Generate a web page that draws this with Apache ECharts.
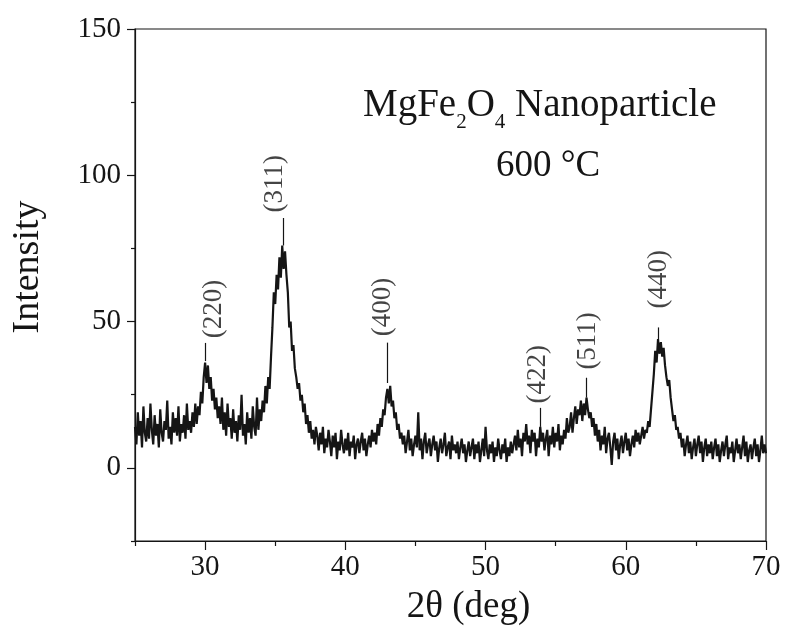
<!DOCTYPE html>
<html>
<head>
<meta charset="utf-8">
<script src="https://cdn.jsdelivr.net/npm/echarts@6/dist/echarts.min.js"></script>
<style>
  html, body { margin: 0; padding: 0; background: #fff; }
  #chart { width: 786px; height: 633px; }
</style>
</head>
<body>
<div id="chart"></div>
<script>
// 2θ scan: start 25 deg, step 0.1 deg
const startAngle = 25;
const stepAngle = 0.1;

// intensity, one row per degree (x.0 ... x.9)
const intensity = [
  14, 8, 19, 11, 16, 7, 21, 12, 9, 17,     // 25
  10, 22, 13, 8, 18, 11, 15, 7, 20, 12,    // 26
  9, 16, 13, 23, 10, 14, 8, 19, 12, 17,    // 27
  11, 21, 9, 15, 12, 18, 10, 22, 13, 16,   // 28
  12, 19, 14, 22, 15, 21, 18, 26, 22, 31,  // 29
  36, 29, 35, 27, 31, 23, 27, 20, 24, 17,  // 30
  21, 15, 24, 13, 19, 11, 22, 14, 17, 10,  // 31
  20, 12, 16, 9, 18, 13, 25, 11, 15, 8,    // 32
  19, 12, 17, 10, 21, 14, 11, 24, 13, 20,  // 33
  16, 23, 19, 28, 22, 31, 27, 38, 48, 60,  // 34
  56, 66, 61, 72, 65, 76, 68, 74, 66, 60,  // 35
  48, 50, 40, 42, 34, 31, 27, 29, 23, 25,  // 36
  19, 22, 15, 18, 12, 16, 10, 13, 8, 14,   // 37
  11, 6, 12, 8, 14, 5, 10, 7, 13, 9,       // 38
  4, 11, 7, 12, 3, 9, 6, 13, 8, 5,         // 39
  10, 6, 12, 4, 9, 7, 11, 3, 8, 10,        // 40
  5, 9, 12, 6, 10, 4, 8, 11, 7, 13,        // 41
  9, 12, 8, 15, 11, 17, 14, 20, 18, 24,    // 42
  27, 22, 28, 21, 23, 17, 19, 13, 15, 10,  // 43
  12, 8, 11, 5, 9, 13, 6, 10, 4, 8,        // 44
  11, 7, 19, 6, 10, 3, 9, 12, 5, 8,        // 45
  10, 4, 8, 11, 6, 9, 2, 7, 10, 5,         // 46
  8, 12, 4, 7, 9, 3, 11, 6, 8, 5,          // 47
  9, 3, 7, 10, 5, 8, 2, 6, 9, 4,           // 48
  7, 10, 3, 8, 5, 9, 2, 6, 10, 4,          // 49
  14, 6, 3, 8, 5, 9, 2, 7, 4, 10,          // 50
  6, 3, 8, 5, 10, 2, 7, 4, 9, 5,           // 51
  8, 11, 6, 13, 7, 10, 4, 12, 9, 15,       // 52
  8, 11, 5, 13, 9, 12, 4, 10, 7, 14,       // 53
  9, 12, 6, 10, 13, 4, 11, 8, 14, 7,       // 54
  12, 9, 15, 6, 11, 8, 13, 10, 17, 12,     // 55
  14, 19, 12, 17, 21, 15, 20, 18, 23, 16,  // 56
  22, 18, 24, 20, 17, 19, 14, 17, 11, 15,  // 57
  9, 13, 6, 11, 8, 14, 5, 10, 12, 7,       // 58
  1, 9, 12, 6, 10, 3, 8, 11, 5, 9,         // 59
  12, 6, 10, 4, 8, 11, 7, 13, 9, 12,       // 60
  8, 11, 14, 10, 13, 12, 16, 14, 20, 26,   // 61
  32, 40, 36, 44, 39, 43, 38, 41, 35, 31,  // 62
  28, 30, 24, 20, 16, 18, 13, 14, 10, 12,  // 63
  7, 10, 4, 8, 11, 5, 9, 3, 7, 10,         // 64
  4, 8, 11, 5, 9, 2, 7, 10, 4, 8,          // 65
  5, 9, 3, 7, 10, 4, 8, 2, 6, 9,           // 66
  4, 8, 11, 3, 7, 5, 9, 2, 6, 10,          // 67
  5, 8, 3, 7, 11, 4, 9, 2, 6, 8,           // 68
  3, 7, 10, 4, 8, 2, 6, 11, 5, 8,          // 69
  5                                         // 70
];

// peak indexing: name, leader line x, leader bottom/top, label centre
const peakNames = ["(220)", "(311)", "(400)", "(422)", "(511)", "(440)"];
const peakX = [30.0, 35.6, 43.0, 53.9, 57.2, 62.3];
const peakBase = [36.5, 76, 29, 14, 24, 44];
const peakTip = [42.7, 85.4, 42.8, 20.5, 30.8, 48];
const labelX = [30.66, 34.95, 42.66, 53.76, 57.3, 62.38];
const labelY = [54.3, 97.1, 55, 32, 43.4, 64.5];

const xMajor = [30, 40, 50, 60, 70];
const xMinor = [25, 35, 45, 55, 65];
const yMajor = [0, 50, 100, 150];
const yMinor = [-25, 25, 75, 125];

const serif = "'Liberation Serif', 'Times New Roman', serif";
const ink = "#151515";

let points = intensity.map((v, i) => [+(startAngle + i * stepAngle).toFixed(1), v]);
let leaders = peakX.map((x, i) => [{ coord: [x, peakBase[i]] }, { coord: [x, peakTip[i]] }]);
let labelPoints = peakNames.map((n, i) => ({ name: n, value: [labelX[i], labelY[i]] }));

let myChart = echarts.init(document.getElementById("chart"));
myChart.setOption({
  animation: false,
  backgroundColor: "#fff",
  grid: {
    left: 135,
    right: 20,
    top: 29,
    bottom: 92,
    show: true,
    borderColor: ink,
    borderWidth: 1.2,
    backgroundColor: "transparent"
  },
  xAxis: [
    {
      type: "value",
      min: 25,
      max: 70,
      interval: 5,
      position: "bottom",
      name: "2θ (deg)",
      nameLocation: "middle",
      nameGap: 48,
      nameTextStyle: { fontFamily: serif, fontSize: 37, color: ink, padding: [0, 0, 0, 36] },
      axisLine: { onZero: false, lineStyle: { color: ink, width: 1.2 } },
      axisTick: { length: 9, customValues: xMajor, lineStyle: { color: ink, width: 1.2 } },
      axisLabel: { customValues: xMajor, margin: 12, fontFamily: serif, fontSize: 29, color: ink },
      splitLine: { show: false }
    },
    {
      type: "value",
      min: 25,
      max: 70,
      interval: 5,
      position: "bottom",
      axisLine: { show: false, onZero: false },
      axisTick: { length: 5, customValues: xMinor, lineStyle: { color: ink, width: 1.2 } },
      axisLabel: { show: false },
      splitLine: { show: false }
    }
  ],
  yAxis: [
    {
      type: "value",
      min: -25,
      max: 150,
      interval: 25,
      position: "left",
      name: "Intensity",
      nameLocation: "middle",
      nameGap: 88,
      nameTextStyle: { fontFamily: serif, fontSize: 38, color: ink, padding: [0, 0, 0, 36] },
      axisLine: { show: true, onZero: false, lineStyle: { color: ink, width: 1.2 } },
      axisTick: { show: true, length: 8, customValues: yMajor, lineStyle: { color: ink, width: 1.2 } },
      axisLabel: { customValues: yMajor, margin: 14, fontFamily: serif, fontSize: 29, color: ink },
      splitLine: { show: false }
    },
    {
      type: "value",
      min: -25,
      max: 150,
      interval: 25,
      position: "left",
      axisLine: { show: false, onZero: false },
      axisTick: { show: true, length: 4, customValues: yMinor, lineStyle: { color: ink, width: 1.2 } },
      axisLabel: { show: false },
      splitLine: { show: false }
    }
  ],
  series: [
    {
      name: "MgFe2O4",
      type: "line",
      data: points,
      showSymbol: false,
      sampling: false,
      lineStyle: { color: ink, width: 2.2 },
      markLine: {
        silent: true,
        symbol: "none",
        label: { show: false },
        lineStyle: { color: ink, width: 1.2, type: "solid" },
        data: leaders
      }
    },
    {
      name: "peaks",
      type: "scatter",
      data: labelPoints,
      symbolSize: 0,
      silent: true,
      label: {
        show: true,
        position: "inside",
        rotate: 90,
        formatter: "{b}",
        fontFamily: serif,
        fontSize: 27,
        color: ink
      }
    }
  ],
  graphic: [
    {
      type: "text",
      left: 363,
      top: 86,
      style: {
        text: "{t|MgFe}{s|2}{t|O}{s|4}{t| Nanoparticle}",
        rich: {
          t: { fontFamily: serif, fontSize: 39, fill: ink, verticalAlign: "bottom", lineHeight: 42 },
          s: { fontFamily: serif, fontSize: 21, fill: ink, verticalAlign: "bottom", lineHeight: 30, padding: [0, 0, -8, 0] }
        }
      }
    },
    {
      type: "text",
      left: 496,
      top: 148,
      style: { text: "600 °C", fontFamily: serif, fontSize: 37, fill: ink }
    }
  ]
});
</script>
</body>
</html>
